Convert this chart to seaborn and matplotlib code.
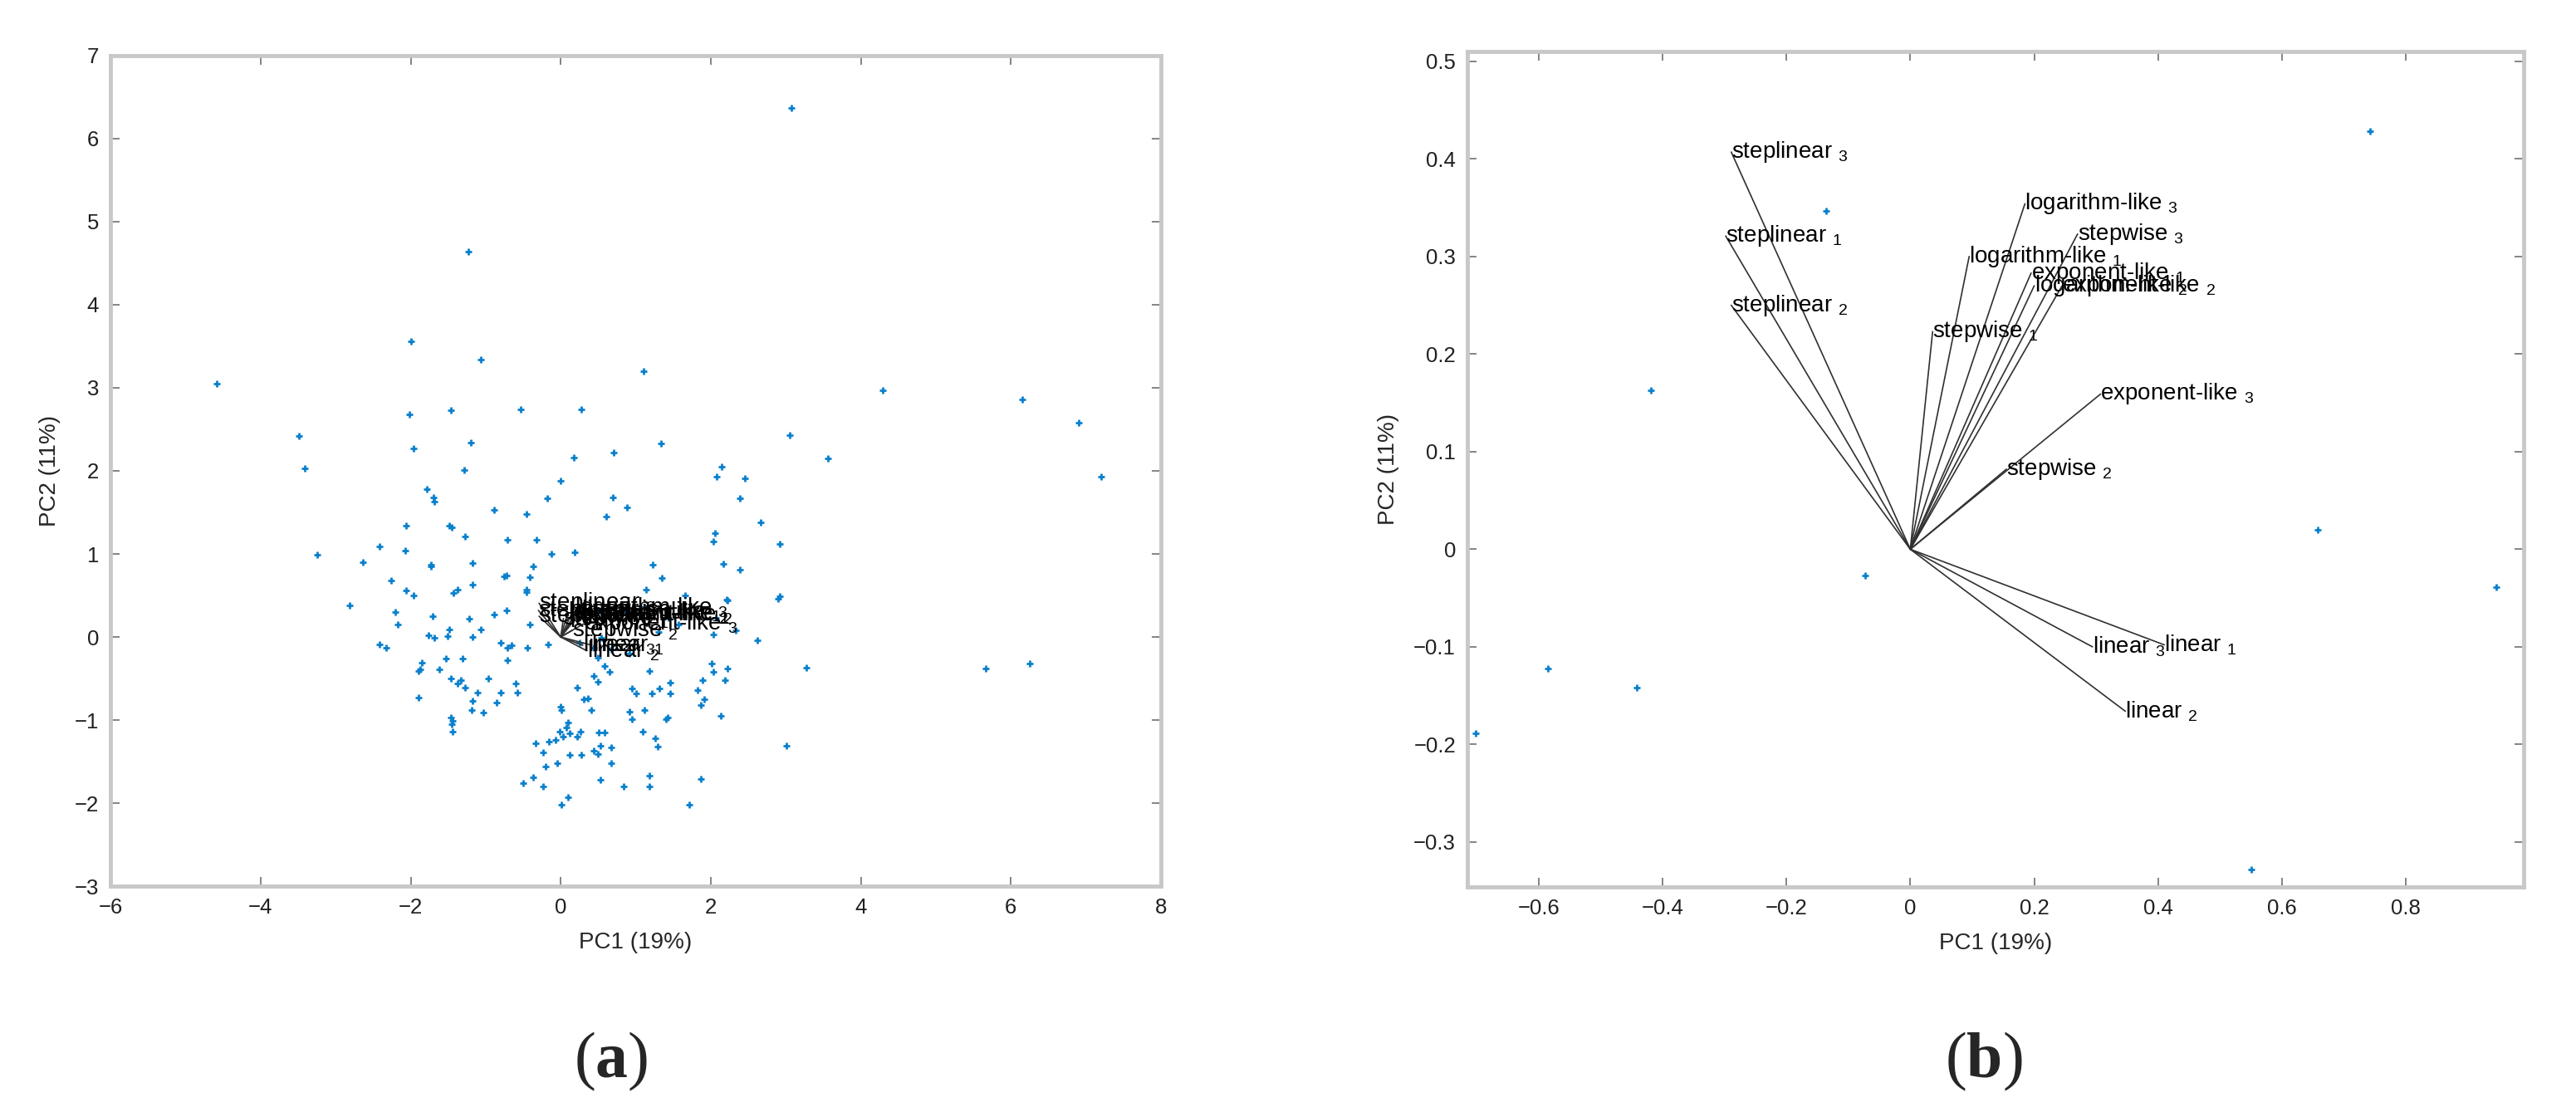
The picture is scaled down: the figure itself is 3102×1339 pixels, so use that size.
import numpy as np
import pandas as pd
import seaborn as sns
from matplotlib import pyplot as plt

# scores, panel (a)
pc1_a = [3.07, -1.23, -2.00, -1.06, -4.58, 1.10, 4.29, 6.15, 6.90, 7.20,
         -2.02, -1.46, -0.53, 0.27, -3.49, 3.05, -1.20, 1.34, -1.96, 3.56,
         -3.41, -1.29, 0.18, 0.71, 2.15, 2.08, 2.46, 0.00, -1.78, -1.70,
         -1.68, -0.18, 0.69, 2.39, -0.89, -0.46, 0.61, 0.88, 2.66, -2.06,
         -1.48, -1.45, -1.28, -0.71, -0.32, 2.06, 2.03, 2.92, -2.41, -2.07,
         -3.25, -0.12, 0.19, -2.64, -1.73, -1.73, -1.18, -0.37, 1.23, 2.17,
         2.39, -0.72, -0.76, -0.41, 1.35, -2.26, -1.37, -1.43, -0.46, -0.46,
         1.14, -2.06, -1.96, -1.17, 2.92, 2.90, 2.21, -2.81, -2.21, -1.71,
         -1.22, -0.72, -0.41, -2.17, -1.48, -1.06, -0.89, -1.76, -1.69, -1.51,
         -1.18, -2.41, -2.33, -0.80, -0.66, -0.44, -0.71, 2.62, 2.03, 2.33,
         3.27, 5.66, 6.25, -1.31, -0.71, -1.85, -1.90, -1.87, -1.62, -1.53,
         -1.46, -1.33, -1.28, -1.37, -0.97, -1.11, -0.60, -0.58, -0.80, -1.90,
         -1.17, -1.19, -1.44, -1.45, -1.44, -1.03, -1.46, -0.85,
         0.00, 0.01, 0.22, 0.31, 0.36, 0.44, 0.50, 0.58, 0.65, 0.41,
         0.10, 0.08, -0.01, 0.12, 0.26, 0.22, 0.03, -0.07, -0.16, -0.33,
         -0.24, -0.05, -0.20, 0.12, 0.27, 0.44, 0.51, 0.58, 0.53, 0.67,
         0.67, 0.50, -0.50, -0.37, -0.23, 0.01, 0.10, 0.53, 0.84, 1.18,
         1.18, 1.87, 1.71, 0.95, 0.92, 1.11, 1.09, 1.26, 1.29, 1.40,
         1.43, 0.95, 1.01, 1.21, 1.32, 1.46, 1.46, 1.82, 1.91, 1.87,
         2.13, 1.89, 2.03, 2.01, 2.19, 2.22, 3.01, 1.18, 0.92, 0.67,
         1.30, 1.57, 1.44, 2.07, 2.22, 1.66, 1.12, 0.84, 0.51, 0.44,
         0.25, 0.54, -0.17, 0.50]
pc2_a = [6.37, 4.64, 3.56, 3.34, 3.05, 3.20, 2.97, 2.86, 2.58, 1.93,
         2.68, 2.73, 2.74, 2.74, 2.42, 2.43, 2.34, 2.33, 2.27, 2.15,
         2.03, 2.01, 2.16, 2.22, 2.05, 1.93, 1.91, 1.88, 1.78, 1.68,
         1.63, 1.67, 1.68, 1.67, 1.53, 1.48, 1.45, 1.56, 1.38, 1.34,
         1.34, 1.32, 1.21, 1.17, 1.17, 1.25, 1.15, 1.12, 1.09, 1.04,
         0.99, 1.00, 1.02, 0.90, 0.87, 0.85, 0.89, 0.85, 0.87, 0.88,
         0.81, 0.74, 0.73, 0.72, 0.71, 0.68, 0.57, 0.53, 0.57, 0.54,
         0.57, 0.56, 0.50, 0.63, 0.49, 0.46, 0.45, 0.38, 0.30, 0.25,
         0.22, 0.32, 0.15, 0.15, 0.09, 0.09, 0.27, 0.02, -0.01, 0.01,
         0.00, -0.09, -0.13, -0.07, -0.10, -0.13, -0.13, -0.04, 0.03, 0.08,
         -0.37, -0.38, -0.32, -0.26, -0.28, -0.31, -0.41, -0.39, -0.39, -0.26,
         -0.50, -0.52, -0.61, -0.56, -0.50, -0.67, -0.56, -0.67, -0.67, -0.73,
         -0.77, -0.88, -1.01, -1.05, -1.14, -0.91, -0.97, -0.79,
         -0.84, -0.88, -0.61, -0.75, -0.74, -0.47, -0.54, -0.35, -0.42, -0.88,
         -1.03, -1.09, -1.14, -1.16, -1.14, -1.20, -1.20, -1.24, -1.26, -1.28,
         -1.39, -1.52, -1.56, -1.42, -1.42, -1.37, -1.15, -1.15, -1.31, -1.33,
         -1.52, -1.41, -1.76, -1.69, -1.80, -2.02, -1.93, -1.72, -1.80, -1.80,
         -1.67, -1.71, -2.02, -0.99, -0.90, -0.88, -1.14, -1.22, -1.32, -0.99,
         -0.97, -0.62, -0.68, -0.68, -0.62, -0.55, -0.68, -0.64, -0.75, -0.82,
         -0.95, -0.52, -0.42, -0.32, -0.52, -0.38, -1.31, -0.41, -0.20, -0.15,
         0.06, 0.15, 0.23, 0.23, 0.44, 0.50, 0.36, 0.32, 0.32, -0.13,
         -0.07, -0.01, -0.09, -0.25]

# scores, panel (b)
pc1_b = [0.742, -0.136, -0.419, 0.658, 0.946, -0.073, -0.585, -0.441, -0.701, 0.550]
pc2_b = [0.428, 0.347, 0.163, 0.020, -0.039, -0.027, -0.122, -0.142, -0.189, -0.328]

# loadings
var_names = ['linear', 'linear', 'linear',
             'steplinear', 'steplinear', 'steplinear',
             'stepwise', 'stepwise', 'stepwise',
             'logarithm-like', 'logarithm-like', 'logarithm-like',
             'exponent-like', 'exponent-like', 'exponent-like']
var_subs = [1, 2, 3, 1, 2, 3, 1, 2, 3, 1, 2, 3, 1, 2, 3]
load_pc1 = [0.410, 0.347, 0.294, -0.298, -0.289, -0.289, 0.036, 0.155, 0.270,
            0.095, 0.200, 0.185, 0.195, 0.245, 0.307]
load_pc2 = [-0.098, -0.166, -0.100, 0.321, 0.250, 0.407, 0.223, 0.082, 0.323,
            0.300, 0.270, 0.354, 0.283, 0.270, 0.159]

xticks_a = [-6, -4, -2, 0, 2, 4, 6, 8]
yticks_a = [-3, -2, -1, 0, 1, 2, 3, 4, 5, 6, 7]
xticks_b = [-0.6, -0.4, -0.2, 0, 0.2, 0.4, 0.6, 0.8]
xlabels_b = ['\u22120.6', '\u22120.4', '\u22120.2', '0', '0.2', '0.4', '0.6', '0.8']
yticks_b = [-0.3, -0.2, -0.1, 0, 0.1, 0.2, 0.3, 0.4, 0.5]
ylabels_b = ['\u22120.3', '\u22120.2', '\u22120.1', '0', '0.1', '0.2', '0.3', '0.4', '0.5']

sns.set_theme(style='ticks')
plt.rcParams['font.family'] = ['Liberation Sans', 'DejaVu Sans']
plt.rcParams['mathtext.fontset'] = 'custom'
plt.rcParams['mathtext.rm'] = 'Liberation Sans'
plt.rcParams['mathtext.bf'] = 'Liberation Serif:bold'

blue = '#0a80cc'
dfa = pd.DataFrame({'PC1': pc1_a, 'PC2': pc2_a})
dfb = pd.DataFrame({'PC1': pc1_b, 'PC2': pc2_b})
dfl = pd.DataFrame({'PC1': load_pc1, 'PC2': load_pc2, 'name': var_names, 'sub': var_subs})

fig = plt.figure(figsize=(31.02, 13.39), dpi=100)
ax1 = fig.add_axes([0.0429, 0.2031, 0.4078, 0.7469])
ax2 = fig.add_axes([0.5696, 0.2024, 0.4101, 0.7513])


def biplot(ax, df):
    sns.scatterplot(data=df, x='PC1', y='PC2', ax=ax, marker='+', color=blue,
                    s=40, linewidth=2.0, zorder=2)
    for _, r in dfl.iterrows():
        ax.plot([0, r['PC1']], [0, r['PC2']], color='#303030', lw=1.2, zorder=3)
        ax.text(r['PC1'], r['PC2'], r['name'] + ' ${}_{%d}$' % r['sub'],
                fontsize=20, color='black', ha='left', va='center', zorder=5)
    for s in ax.spines.values():
        s.set_visible(True)
        s.set_color('#c8c8c8')
        s.set_linewidth(3.5)
    ax.tick_params(direction='in', length=8, width=1.2, color='#707070',
                   top=True, right=True, labelsize=18.5, labelcolor='#202020', pad=10)
    ax.set_xlabel('PC1 (19%)', fontsize=20, color='#262626', labelpad=12)
    ax.set_ylabel('PC2 (11%)', fontsize=20, color='#262626', labelpad=12)


biplot(ax1, dfa)
ax1.set_xlim(-6, 8)
ax1.set_ylim(-3, 7)
ax1.set_xticks(xticks_a)
ax1.set_yticks(yticks_a)

biplot(ax2, dfb)
ax2.set_xlim(-0.715, 0.99)
ax2.set_ylim(-0.346, 0.51)
ax2.set_xticks(xticks_b, xlabels_b)
ax2.set_yticks(yticks_b, ylabels_b)

fig.text(0.237, 0.045, r'($\mathbf{a}$)', fontsize=56, ha='center', va='center',
         family='Liberation Serif')
fig.text(0.770, 0.045, r'($\mathbf{b}$)', fontsize=56, ha='center', va='center',
         family='Liberation Serif')

fig.savefig('out.png', dpi=100)
